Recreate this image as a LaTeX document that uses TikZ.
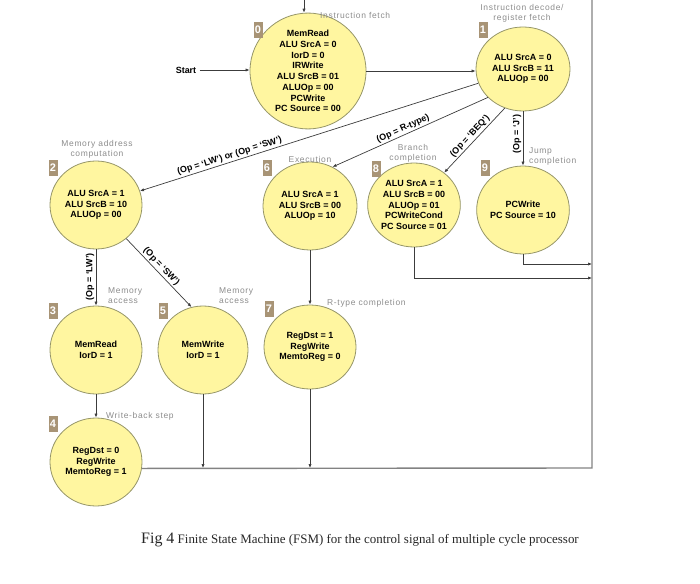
\documentclass[tikz,border=0pt]{standalone}
\usepackage{fontspec}
\setmainfont{Liberation Sans}
\newfontfamily\capfont{Liberation Serif}
\newfontfamily\lblfont[LetterSpace=8]{Liberation Sans}
\usetikzlibrary{shapes.geometric,arrows.meta}
\definecolor{stfill}{RGB}{255,246,160}
\definecolor{stdraw}{RGB}{150,150,105}
\definecolor{conncol}{RGB}{60,60,60}
\definecolor{outercol}{RGB}{130,130,130}
\definecolor{graytxt}{RGB}{140,140,140}
\definecolor{numfill}{RGB}{168,148,118}
\begin{document}
\begin{tikzpicture}[x=1bp,y=-1bp,
  fsm/.style={ellipse, draw=stdraw, fill=stfill, line width=0.8bp, inner sep=0pt, align=center,
    font=\fontsize{9}{10.8}\selectfont\bfseries},
  numbox/.style={fill=numfill, text=white, font=\fontsize{11}{11}\selectfont\bfseries,
    minimum width=9bp, minimum height=16bp, inner sep=0pt},
  glab/.style={text=graytxt, font={\lblfont\fontsize{8.5}{10}\selectfont}, align=center, inner sep=0pt},
  elab/.style={font=\fontsize{9}{10}\selectfont\bfseries, inner sep=1.5bp},
  connline/.style={draw=conncol, line width=0.7bp, -{Latex[length=4bp,width=3.2bp]}},
  outerline/.style={draw=outercol, line width=1.4bp},
]
\useasboundingbox (0,0) rectangle (700,584);

% states
\node[fsm, minimum width=116bp, minimum height=108bp] (s0) at (308,71)
  {MemRead\\ALU SrcA = 0\\IorD = 0\\IRWrite\\ALU SrcB = 01\\ALUOp = 00\\PCWrite\\PC Source = 00};
\node[fsm, minimum width=94bp, minimum height=84bp] (s1) at (523,69)
  {ALU SrcA = 0\\ALU SrcB = 11\\ALUOp = 00};
\node[fsm, minimum width=92bp, minimum height=88bp] (s2) at (96,205)
  {ALU SrcA = 1\\ALU SrcB = 10\\ALUOp = 00};
\node[fsm, minimum width=94bp, minimum height=88bp] (s6) at (310,206)
  {ALU SrcA = 1\\ALU SrcB = 00\\ALUOp = 10};
\node[fsm, minimum width=86bp, minimum height=84bp] (s8) at (414,205)
  {ALU SrcA = 1\\ALU SrcB = 00\\ALUOp = 01\\PCWriteCond\\PC Source = 01};
\node[fsm, minimum width=88bp, minimum height=88bp] (s9) at (523,210)
  {PCWrite\\PC Source = 10};
\node[fsm, minimum width=92bp, minimum height=88bp] (s3) at (96,350)
  {MemRead\\IorD = 1};
\node[fsm, minimum width=90bp, minimum height=88bp] (s5) at (203,350)
  {MemWrite\\IorD = 1};
\node[fsm, minimum width=92bp, minimum height=84bp] (s7) at (310,347)
  {RegDst = 1\\RegWrite\\MemtoReg = 0};
\node[fsm, minimum width=92bp, minimum height=88bp] (s4) at (96,462)
  {RegDst = 0\\RegWrite\\MemtoReg = 1};

% state numbers
\node[numbox] (n0) at (258,30) {0};
\node[numbox] (n1) at (483,30) {1};
\node[numbox] (n2) at (53,168) {2};
\node[numbox] (n6) at (267,168) {6};
\node[numbox] (n8) at (376,169) {8};
\node[numbox] (n9) at (485,168) {9};
\node[numbox] (n3) at (53,311) {3};
\node[numbox] (n5) at (163,311) {5};
\node[numbox] (n7) at (269,309) {7};
\node[numbox] (n4) at (53,424) {4};

% gray step labels
\node[glab, anchor=west] (l0) at (320,15) {Instruction fetch};
\node[glab] (l1) at (522,13) {Instruction decode/\\register fetch};
\node[glab] (l2) at (97,149) {Memory address\\computation};
\node[glab] (l6) at (310,159) {Execution};
\node[glab] (l8) at (413,153) {Branch\\completion};
\node[glab, anchor=west, align=left] (l9) at (529,156) {Jump\\completion};
\node[glab, anchor=west, align=left] (l3) at (108,296) {Memory\\access};
\node[glab, anchor=west, align=left] (l5) at (219,296) {Memory\\access};
\node[glab, anchor=west] (l7) at (327,303) {R-type completion};
\node[glab, anchor=west] (l4) at (106,416) {Write-back step};

% start
\node[font=\fontsize{9}{10}\selectfont\bfseries] (start) at (186,70) {Start};

% helper coordinates of the return path
\coordinate (tl) at (304,0);
\coordinate (tr) at (592,0);
\coordinate (br) at (592,468);
\coordinate (r9) at (592,264);
\coordinate (r8) at (592,278);

% connectors
\draw[connline] (start.east) -- (start.east -| s0.west);
\draw[connline] (tl) -- (tl |- s0.north);
\draw[connline] (s0.east) -- (s0.east -| s1.west);
\draw[connline] (s1) -- node[elab, sloped, above, pos=0.73] {(Op = `LW') or (Op = `SW')} (s2);
\draw[connline] (s1.219) -- node[elab, sloped, above, pos=0.53] {(Op = R-type)} (s6.60);
\draw[connline] (s1.245) -- node[elab, sloped, above, pos=0.5] {(Op = `BEQ')} (s8.47);
\draw[connline] (s1.south) -- node[elab, rotate=90, anchor=south, pos=0.42] {(Op = `J')} (s9.north);
\draw[connline] (s2.south) -- node[elab, rotate=90, anchor=south, pos=0.49] {(Op = `LW')} (s3.north);
\draw[connline] (s2.-48) -- node[elab, sloped, above, pos=0.47] {(Op = `SW')} (s5.105);
\draw[connline] (s6.south) -- (s7.north);
\draw[connline] (s3.south) -- (s4.north);
\draw[outerline] (s4.-8) -- (br) -- (tr);
\draw[connline] (s5.south) -- (s5.south |- br);
\draw[connline] (s7.south) -- (s7.south |- br);
\draw[connline] (s8.south) |- (r8);
\draw[connline] (s9.south) |- (r9);

% caption
\node[anchor=base, font=\capfont\fontsize{13}{15}\selectfont, text=black!85] (cap) at (360,543)
  {{\fontsize{16}{18}\selectfont Fig 4} Finite State Machine (FSM) for the control signal of multiple cycle processor};
\end{tikzpicture}
\end{document}
